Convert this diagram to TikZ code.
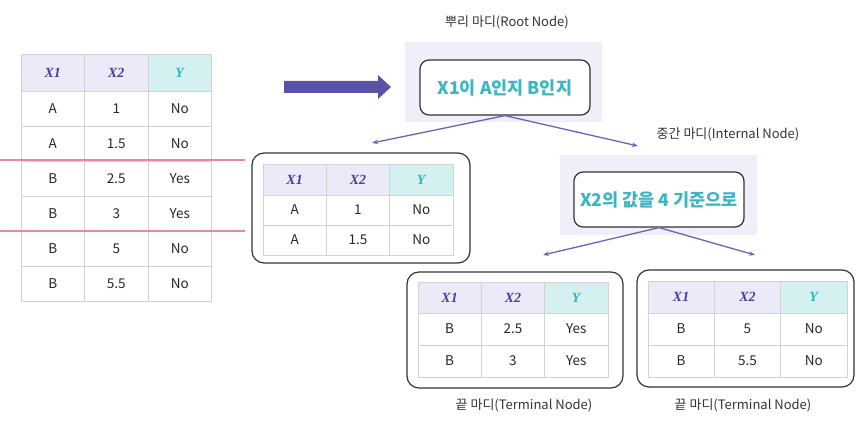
\documentclass[tikz,border=0pt]{standalone}
\usepackage{fontspec}
\setmainfont{Noto Sans CJK KR}
\newfontfamily\hdrfont{Liberation Serif}
\usetikzlibrary{arrows.meta}

\definecolor{hdrX}{HTML}{EBEAF8}
\definecolor{hdrY}{HTML}{D5F0F1}
\definecolor{xtext}{HTML}{4A3E9C}
\definecolor{ytext}{HTML}{33B2BC}
\definecolor{gridgray}{HTML}{D3D3D3}
\definecolor{splitpink}{HTML}{E98A9C}
\definecolor{arrowpurple}{HTML}{5A52A5}
\definecolor{linkpurple}{HTML}{6C63B8}
\definecolor{nodebg}{HTML}{EFEEF9}
\definecolor{ruletext}{HTML}{3BB6C4}

\tikzset{
	gridline/.style={draw=gridgray, line width=0.8pt},
	celltext/.style={font=\fontsize{13.5}{15}\selectfont, text=black!85},
	hdrtext/.style={font=\fontsize{14}{16}\selectfont\hdrfont\bfseries\itshape},
	leafbox/.style={draw=black!80, line width=1.2pt, rounded corners=12pt},
	rulebox/.style={draw=black!80, line width=1.2pt, rounded corners=9pt, fill=white,
		minimum width=170, minimum height=55,
		font=\fontsize{17.5}{20}\selectfont\bfseries, text=ruletext},
	bgbox/.style={fill=nodebg, minimum width=197, minimum height=80},
	caption/.style={font=\fontsize{13}{15}\selectfont, text=black!80},
	link/.style={draw=linkpurple, line width=1.3pt, -{Stealth[length=6pt,width=4.5pt]}},
}

% table: name, left, top, column width, header height, row height, rows
\newcommand{\datatable}[7]{%
	\begin{scope}[shift={(#2,#3)}]
		%header
		\fill[hdrX] (0,0) rectangle (2*#4,#5);
		\fill[hdrY] (2*#4,0) rectangle (3*#4,#5);
		\foreach \j in {0,1,2}
		\draw[gridline] (\j*#4,0) rectangle ++(#4,#5);
		\node[hdrtext, text=xtext] (#1-h1) at (0.5*#4,0.5*#5) {X1};
		\node[hdrtext, text=xtext] (#1-h2) at (1.5*#4,0.5*#5) {X2};
		\node[hdrtext, text=ytext] (#1-h3) at (2.5*#4,0.5*#5) {Y};
		%rows
		\foreach \a/\b/\c [count=\i] in {#7} {
			\foreach \j in {0,1,2}
			\draw[gridline] (\j*#4,#5+\i*#6-#6) rectangle ++(#4,#6);
			\node[celltext] (#1-\i-1) at (0.5*#4,#5+\i*#6-0.5*#6) {\a};
			\node[celltext] (#1-\i-2) at (1.5*#4,#5+\i*#6-0.5*#6) {\b};
			\node[celltext] (#1-\i-3) at (2.5*#4,#5+\i*#6-0.5*#6) {\c};
		}
	\end{scope}}

\begin{document}
\begin{tikzpicture}[x=1pt, y=-1pt]
	\useasboundingbox (0,0) rectangle (868,422);
	
	%full data
	\datatable{all}{21}{54}{63.5}{37}{35}{A/1/No, A/1.5/No, B/2.5/Yes, B/3/Yes, B/5/No, B/5.5/No}
	\draw[splitpink, line width=1.2pt] (0,160) -- (245,160);
	\draw[splitpink, line width=1.2pt] (0,231) -- (245,231);
	
	%big arrow
	\fill[arrowpurple] (284,81) -- (378,81) -- (378,75) -- (391,87)
	-- (378,99) -- (378,93) -- (284,93) -- cycle;
	
	%root node
	\node[caption] (rootlabel) at (507,22) {뿌리 마디(Root Node)};
	\node[bgbox] (rootbg) at (503.5,82.5) {};
	\node[rulebox] (root) at (505,87.5) {X1이 A인지 B인지};
	
	%left leaf
	\node[leafbox, minimum width=218, minimum height=110] (leafA) at (361,208) {};
	\datatable{ta}{263}{164}{63.3}{31}{30}{A/1/No, A/1.5/No}
	
	%internal node
	\node[caption] (intlabel) at (728,134) {중간 마디(Internal Node)};
	\node[bgbox] (intbg) at (658,195) {};
	\node[rulebox] (inner) at (659,199.5) {X2의 값을 4 기준으로};
	
	%bottom leaves
	\node[leafbox, minimum width=216, minimum height=116] (leafB) at (515,330) {};
	\datatable{tb}{418}{282}{63.3}{31}{32}{B/2.5/Yes, B/3/Yes}
	\node[caption] (leafBlabel) at (524,405) {끝 마디(Terminal Node)};
	
	\node[leafbox, minimum width=217, minimum height=117] (leafC) at (745.5,328.5) {};
	\datatable{tc}{648}{281}{66.3}{32}{32}{B/5/No, B/5.5/No}
	\node[caption] (leafClabel) at (743,405) {끝 마디(Terminal Node)};
	
	%links
	\coordinate (toA) at (372,143);
	\coordinate (toInt) at (638,146);
	\coordinate (toB) at (543,255);
	\coordinate (toC) at (755,255);
	\draw[link] (root.south) -- (toA);
	\draw[link] (root.south) -- (toInt);
	\draw[link] (inner.south) -- (toB);
	\draw[link] (inner.south) -- (toC);
\end{tikzpicture}
\end{document}
